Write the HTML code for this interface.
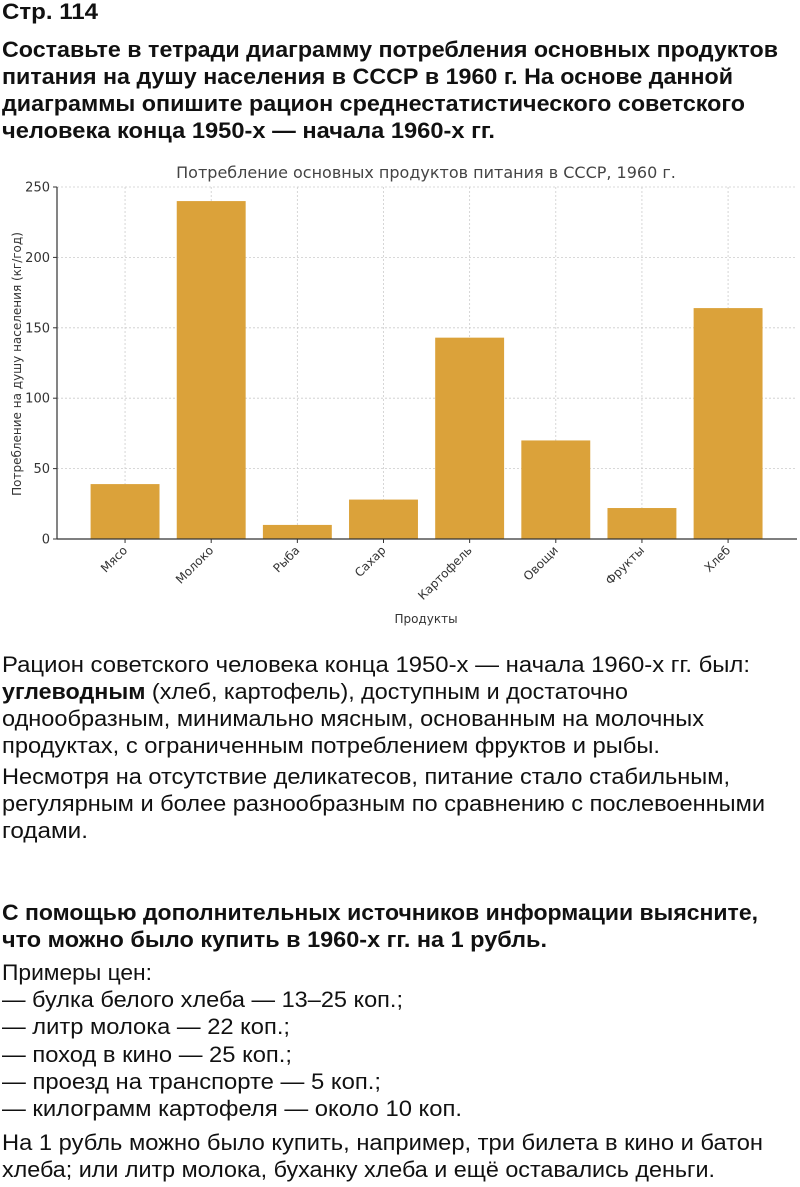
<!DOCTYPE html>
<html><head><meta charset="utf-8">
<style>
html,body{margin:0;padding:0;background:#fff;}
body{width:800px;height:1187px;position:relative;overflow:hidden;font-family:"Liberation Sans",Arial,sans-serif;color:#111;}
.l{position:absolute;left:2px;white-space:nowrap;font-size:22px;line-height:27px;transform-origin:0 50%;}
.b{font-weight:bold;}
svg text{font-family:"DejaVu Sans",sans-serif;}
</style></head>
<body>
<div class="l b" style="top:-2px" data-w="98">Стр. 114</div>
<div>
<div class="l b" style="top:36px" data-w="778">Составьте в тетради диаграмму потребления основных продуктов</div>
<div class="l b" style="top:63px" data-w="733">питания на душу населения в СССР в 1960 г. На основе данной</div>
<div class="l b" style="top:90px" data-w="745">диаграммы опишите рацион среднестатистического советского</div>
<div class="l b" style="top:117px" data-w="495">человека конца 1950-х — начала 1960-х гг.</div>
</div>

<svg id="chart" style="position:absolute;left:0;top:150px" width="800" height="490"></svg>

<div>
<div class="l" style="top:651px" data-w="750">Рацион советского человека конца 1950-х — начала 1960-х гг. был:</div>
<div class="l" style="top:678px" data-w="628"><b>углеводным</b> (хлеб, картофель), доступным и достаточно</div>
<div class="l" style="top:705px" data-w="704">однообразным, минимально мясным, основанным на молочных</div>
<div class="l" style="top:732px" data-w="660">продуктах, с ограниченным потреблением фруктов и рыбы.</div>
<div class="l" style="top:763px" data-w="730">Несмотря на отсутствие деликатесов, питание стало стабильным,</div>
<div class="l" style="top:790px" data-w="765">регулярным и более разнообразным по сравнению с послевоенными</div>
<div class="l" style="top:817px" data-w="88">годами.</div>
</div>
<div>
<div class="l b" style="top:899px" data-w="758">С помощью дополнительных источников информации выясните,</div>
<div class="l b" style="top:926px" data-w="547">что можно было купить в 1960-х гг. на 1 рубль.</div>
</div>
<div>
<div class="l" style="top:959px" data-w="152">Примеры цен:</div>
<div class="l" style="top:986px" data-w="403">— булка белого хлеба — 13–25 коп.;</div>
<div class="l" style="top:1013px" data-w="290">— литр молока — 22 коп.;</div>
<div class="l" style="top:1041px" data-w="292">— поход в кино — 25 коп.;</div>
<div class="l" style="top:1068px" data-w="381">— проезд на транспорте — 5 коп.;</div>
<div class="l" style="top:1095px" data-w="462">— килограмм картофеля — около 10 коп.</div>
<div class="l" style="top:1129px" data-w="763">На 1 рубль можно было купить, например, три билета в кино и батон</div>
<div class="l" style="top:1156px" data-w="715">хлеба; или литр молока, буханку хлеба и ещё оставались деньги.</div>
</div>

<script>
const categories = ["Мясо","Молоко","Рыба","Сахар","Картофель","Овощи","Фрукты","Хлеб"];
const values = [39, 240, 10, 28, 143, 70, 22, 164];
const yTicks = [0, 50, 100, 150, 200, 250];

document.querySelectorAll('.l[data-w]').forEach(el => {
  const w = el.getBoundingClientRect().width;
  const t = parseFloat(el.getAttribute('data-w')) - 2;
  if (w > 0) el.style.transform = 'scaleX(' + (t / w) + ')';
});

const NS = "http://www.w3.org/2000/svg";
const svg = document.getElementById("chart");
const oy = 150;
const x0 = 57, x1 = 797, y0 = 539 - oy, yTop = 187 - oy;
const xmin = -0.79, xmax = 7.8, ymax = 250;
function sx(i){ return x0 + (i - xmin) / (xmax - xmin) * (x1 - x0); }
function sy(v){ return y0 - v / ymax * (y0 - yTop); }
function mk(tag, attrs, parent){
  const e = document.createElementNS(NS, tag);
  for (const k in attrs) e.setAttribute(k, attrs[k]);
  (parent || svg).appendChild(e);
  return e;
}
yTicks.forEach(t => {
  const g = mk("line", {x1:x0, x2:x1, y1:sy(t), y2:sy(t), stroke:"#ccc", "stroke-width":0.8, "stroke-dasharray":"2,2"});
  
  
});
categories.forEach((c, i) => {
  const g = mk("line", {x1:sx(i), x2:sx(i), y1:yTop, y2:y0, stroke:"#ccc", "stroke-width":0.8, "stroke-dasharray":"2,2"});
  
  
});
const bw = 0.8 * (sx(1) - sx(0));
categories.forEach((c, i) => {
  const r = mk("rect", {x:sx(i) - bw/2, y:sy(values[i]), width:bw, height:y0 - sy(values[i]), fill:"#dba23a"});
  
  
});
const ya = mk("line", {x1:x0, x2:x0, y1:yTop, y2:y0, stroke:"#333", "stroke-width":1.2});


const xa = mk("line", {x1:x0, x2:x1, y1:y0, y2:y0, stroke:"#333", "stroke-width":1.2});


yTicks.forEach(t => {
  mk("line", {x1:x0-4, x2:x0, y1:sy(t), y2:sy(t), stroke:"#333"});
  const tx = mk("text", {x:x0-7, y:sy(t)+4.5, "text-anchor":"end", "font-size":13, fill:"#333"});
  tx.textContent = t;
  
  
});
categories.forEach((c, i) => {
  mk("line", {x1:sx(i), x2:sx(i), y1:y0, y2:y0+4, stroke:"#333"});
  const tx = mk("text", {x:sx(i)+3, y:y0+12, "text-anchor":"end", "font-size":12, fill:"#333", transform:"rotate(-45 " + (sx(i)+3) + " " + (y0+12) + ")"});
  tx.textContent = c;
  
  
});
const title = mk("text", {x:426, y:178-oy, "text-anchor":"middle", "font-size":16, fill:"#444"});
title.textContent = "Потребление основных продуктов питания в СССР, 1960 г.";


const xl = mk("text", {x:426, y:623-oy, "text-anchor":"middle", "font-size":12, fill:"#333"});
xl.textContent = "Продукты";


const yl = mk("text", {x:0, y:0, "text-anchor":"middle", "font-size":12, fill:"#333", transform:"translate(21 " + (364-oy) + ") rotate(-90)"});
yl.textContent = "Потребление на душу населения (кг/год)";


</script>
</body></html>
